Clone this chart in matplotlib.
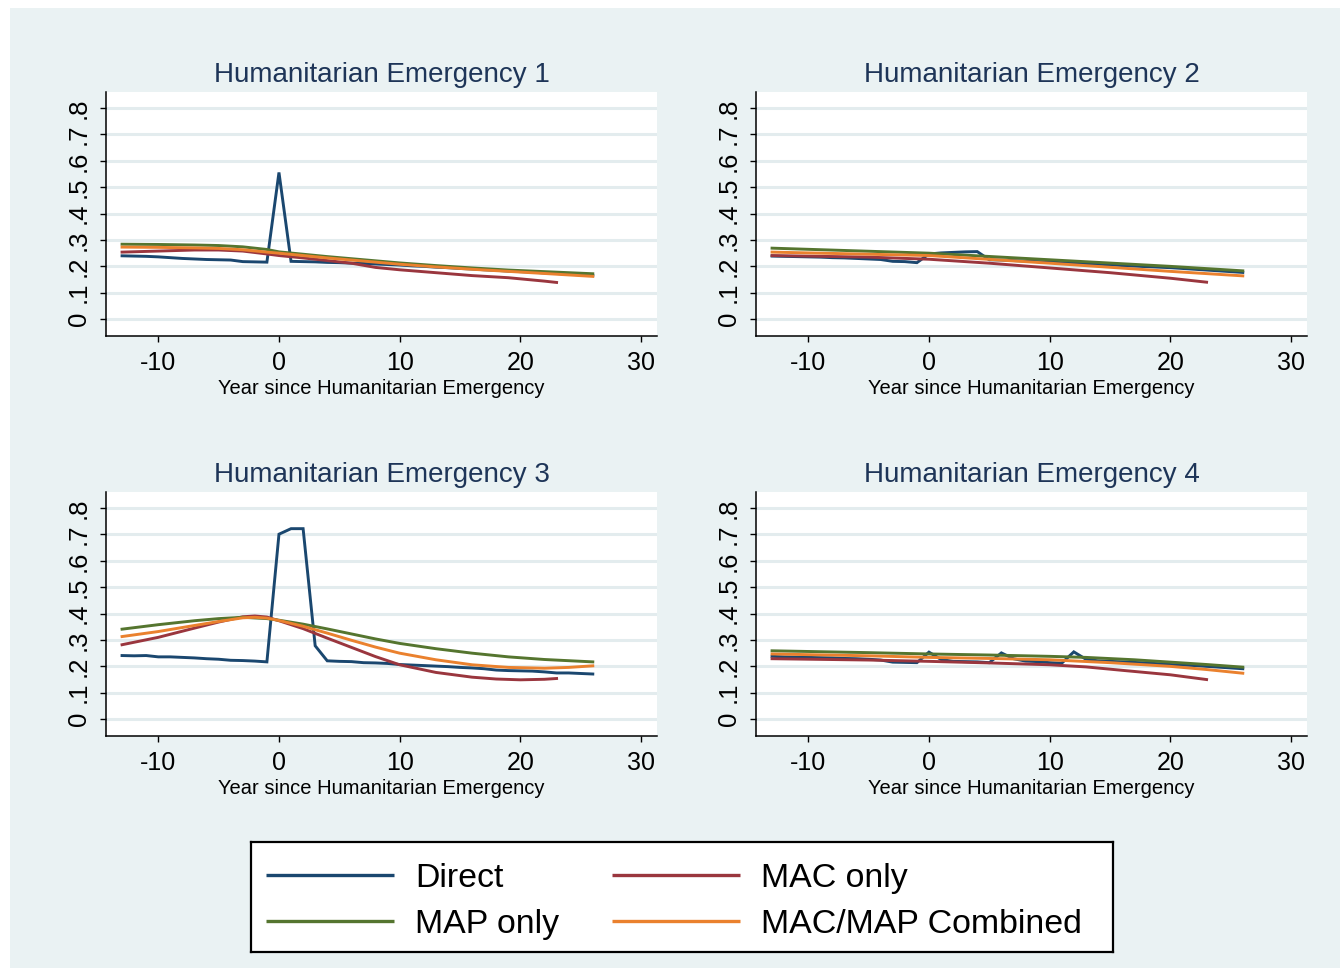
import matplotlib
matplotlib.use("Agg")
import matplotlib.pyplot as plt
from matplotlib.patches import Rectangle

plt.rcParams["font.family"] = ["Liberation Sans", "DejaVu Sans"]

# ---------------------------------------------------------------- data
series_names = ["Direct", "MAC only", "MAP only", "MAC/MAP Combined"]
panel_titles = ["Humanitarian Emergency 1", "Humanitarian Emergency 2",
                "Humanitarian Emergency 3", "Humanitarian Emergency 4"]
x_label = "Year since Humanitarian Emergency"
x_ticks = [-10, 0, 10, 20, 30]
x_tick_labels = ["-10", "0", "10", "20", "30"]
y_ticks = [0, .1, .2, .3, .4, .5, .6, .7, .8]
y_tick_labels = ["0", ".1", ".2", ".3", ".4", ".5", ".6", ".7", ".8"]

# Direct estimates, one value per year
years_direct = list(range(-13, 27))
direct_1 = [.240, .239, .238, .236, .233, .230, .228, .226, .225, .224, .218, .217, .216,
            .556, .219, .218, .217, .215, .214, .212, .211, .209, .207, .205, .202, .200,
            .197, .195, .192, .190, .187, .185, .182, .180, .178, .175, .173, .170, .168, .165]
direct_2 = [.239, .238, .237, .236, .235, .233, .232, .230, .228, .226, .219, .218, .214,
            .247, .251, .253, .255, .256, .225, .224, .222, .220, .218, .216, .214, .212,
            .210, .208, .206, .203, .201, .199, .197, .195, .192, .189, .186, .183, .180, .177]
direct_3 = [.241, .240, .241, .236, .236, .234, .232, .229, .227, .223, .222, .220, .217,
            .701, .722, .722, .278, .221, .219, .218, .214, .213, .211, .207, .205, .203,
            .201, .199, .196, .194, .191, .186, .184, .183, .182, .179, .175, .175, .173, .171]
direct_4 = [.238, .236, .235, .234, .233, .232, .230, .229, .227, .224, .216, .215, .214,
            .254, .226, .219, .218, .217, .214, .251, .229, .220, .218, .214, .212, .255,
            .227, .221, .219, .217, .215, .213, .210, .207, .205, .203, .200, .197, .194, .191]

# Model-based estimates
years_mac_1 = [-13, -10, -7, -5, -3, -1, 0, 2, 4, 6, 8, 10, 13, 16, 19, 22, 23]
mac_1 = [.254, .258, .262, .262, .258, .247, .241, .232, .222, .212, .196, .187, .176,
         .165, .157, .144, .139]
years_map_1 = [-13, -10, -7, -5, -3, -1, 0, 2, 4, 6, 8, 10, 13, 16, 19, 22, 26]
map_1 = [.284, .283, .281, .279, .274, .264, .255, .246, .237, .229, .221, .213, .203,
         .194, .186, .180, .172]
comb_1 = [.273, .272, .270, .268, .263, .254, .250, .241, .232, .224, .216, .208, .198,
          .189, .181, .173, .162]

years_mac_2 = [-13, -5, 0, 5, 10, 15, 20, 23]
mac_2 = [.241, .235, .227, .212, .194, .176, .155, .140]
years_map_2 = [-13, 0, 10, 20, 26]
map_2 = [.269, .250, .225, .200, .183]
comb_2 = [.254, .241, .212, .181, .164]

years_mac_3 = [-13, -10, -7, -5, -3, -2, -1, 0, 2, 4, 6, 8, 10, 13, 16, 18, 20, 22, 23]
mac_3 = [.282, .310, .345, .368, .388, .391, .387, .373, .343, .307, .272, .237, .206,
         .177, .159, .152, .149, .151, .154]
years_map_3 = [-13, -10, -7, -5, -3, -1, 0, 2, 4, 6, 8, 10, 13, 16, 19, 22, 26]
map_3 = [.341, .358, .373, .381, .386, .381, .375, .360, .342, .323, .304, .287, .267,
         .250, .236, .226, .217]
years_comb_3 = [-13, -10, -7, -5, -3, -2, -1, 0, 2, 4, 6, 8, 10, 13, 16, 19, 22, 24, 26]
comb_3 = [.313, .332, .355, .370, .384, .386, .383, .374, .352, .326, .299, .273, .250,
          .225, .206, .196, .193, .196, .202]

years_mac_4 = [-13, -5, 0, 5, 10, 13, 16, 20, 23]
mac_4 = [.229, .224, .219, .213, .206, .198, .185, .168, .150]
years_map_4 = [-13, -5, 0, 5, 10, 13, 17, 20, 23, 26]
map_4 = [.259, .252, .247, .243, .238, .234, .225, .216, .207, .197]
years_comb_4 = [-13, -5, 0, 5, 10, 15, 20, 23, 26]
comb_4 = [.247, .240, .234, .230, .225, .214, .200, .188, .174]

panels = [
    [(years_direct, direct_1), (years_mac_1, mac_1), (years_map_1, map_1), (years_map_1, comb_1)],
    [(years_direct, direct_2), (years_mac_2, mac_2), (years_map_2, map_2), (years_map_2, comb_2)],
    [(years_direct, direct_3), (years_mac_3, mac_3), (years_map_3, map_3), (years_comb_3, comb_3)],
    [(years_direct, direct_4), (years_mac_4, mac_4), (years_map_4, map_4), (years_comb_4, comb_4)],
]

# ---------------------------------------------------------------- style
colors = ["#1A476F", "#9A363E", "#55752F", "#EA812E"]
bg = "#EAF2F3"
title_color = "#1E3558"
W, H = 1340, 968

fig = plt.figure(figsize=(W / 100, H / 100), dpi=100, facecolor="white")
fig.patches.append(Rectangle((10 / W, 0), 1 - 10 / W, 1 - 8 / H,
                             transform=fig.transFigure, facecolor=bg,
                             edgecolor="none", zorder=-10))


def px_axes(left, top, right, bottom):
    return fig.add_axes([left / W, 1 - bottom / H, (right - left) / W, (bottom - top) / H])


boxes = [(106, 92, 657, 336), (756, 92, 1307, 336),
         (106, 492, 657, 736), (756, 492, 1307, 736)]

for box, title, series in zip(boxes, panel_titles, panels):
    ax = px_axes(*box)
    ax.set_facecolor("white")
    for (xs, ys), c in zip(series, colors):
        ax.plot(xs, ys, color=c, lw=2.1, solid_joinstyle="miter")
    ax.set_xlim(-14.33, 31.32)
    ax.set_ylim(-0.064, 0.861)
    ax.set_xticks(x_ticks)
    ax.set_xticklabels(x_tick_labels, fontsize=18)
    ax.set_yticks(y_ticks)
    ax.set_yticklabels(y_tick_labels, fontsize=18.5, rotation=90, va="center")
    ax.tick_params(axis="both", length=4.3, width=1, color="black", direction="out")
    ax.tick_params(axis="x", pad=6.5)
    ax.tick_params(axis="y", pad=6.5)
    ax.yaxis.grid(True, color="#E3ECEE", lw=2.2)
    ax.set_axisbelow(True)
    for s in ("top", "right"):
        ax.spines[s].set_visible(False)
    for s in ("left", "bottom"):
        ax.spines[s].set_linewidth(1.1)
        ax.spines[s].set_color("black")
    ax.set_title(title, fontsize=20, color=title_color, pad=7.5)
    ax.set_xlabel(x_label, fontsize=14.5, labelpad=3)

# ---------------------------------------------------------------- legend
lax = px_axes(251, 842, 1113, 952)
lax.set_xlim(251, 1113)
lax.set_ylim(952, 842)
lax.set_xticks([])
lax.set_yticks([])
lax.set_facecolor("white")
for s in lax.spines.values():
    s.set_linewidth(1.6)
    s.set_color("black")

legend_slots = [(266, 875), (612, 875), (266, 921), (612, 921)]
for name, c, (lx, ly) in zip(series_names, colors, legend_slots):
    lax.plot([lx, lx + 128], [ly, ly], color=c, lw=2.4, solid_capstyle="butt")
    lax.text(lx + 149, ly + 4, name, fontsize=24.4, va="center", ha="left")

fig.savefig("out.png", dpi=100, facecolor=fig.get_facecolor())
